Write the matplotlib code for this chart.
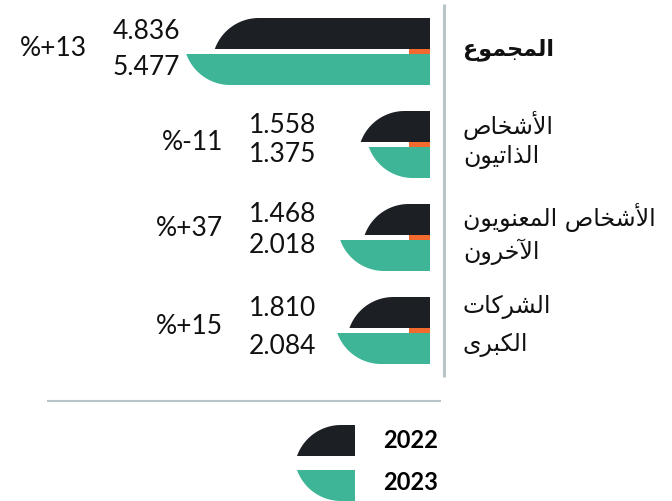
import numpy as np
import matplotlib
matplotlib.use("Agg")
import matplotlib.pyplot as plt
from matplotlib.patches import Polygon

# data
categories = ["المجموع", "الأشخاص\nالذاتيون", "الأشخاص المعنويون\nالآخرون", "الشركات\nالكبرى"]
values_2022 = [4.836, 1.558, 1.468, 1.810]
values_2023 = [5.477, 1.375, 2.018, 2.084]
change_labels = ["%+13", "%-11", "%+37", "%+15"]
years = ["2022", "2023"]

BLACK = "#1c1f24"
GREEN = "#3db596"
ORANGE = "#f26a2e"
GRAY = "#b7c4c8"

# layout, in figure pixels
S = 44.5          # pixels per unit
X0 = 430          # right edge of the bars
H = 31            # bar height
GAP = 5
CURVE = 44
group_tops = [18, 111, 204, 297]
value_label_y = [(31, 67), (125, 155), (215, 245), (308, 347)]
change_y = [48, 143, 228, 327]
cat_y = [(50,), (125, 157), (217, 252), (307, 345)]

# simple arabic shaping (matplotlib has no text shaping)
FORMS = {
    "ا": ("\ufe8d", "\ufe8e", None, None),
    "أ": ("\ufe83", "\ufe84", None, None),
    "آ": ("\ufe81", "\ufe82", None, None),
    "ب": ("\ufe8f", "\ufe90", "\ufe91", "\ufe92"),
    "ت": ("\ufe95", "\ufe96", "\ufe97", "\ufe98"),
    "ج": ("\ufe9d", "\ufe9e", "\ufe9f", "\ufea0"),
    "خ": ("\ufea5", "\ufea6", "\ufea7", "\ufea8"),
    "ذ": ("\ufeab", "\ufeac", None, None),
    "ر": ("\ufead", "\ufeae", None, None),
    "ش": ("\ufeb5", "\ufeb6", "\ufeb7", "\ufeb8"),
    "ص": ("\ufeb9", "\ufeba", "\ufebb", "\ufebc"),
    "ع": ("\ufec9", "\ufeca", "\ufecb", "\ufecc"),
    "ك": ("\ufed9", "\ufeda", "\ufedb", "\ufedc"),
    "ل": ("\ufedd", "\ufede", "\ufedf", "\ufee0"),
    "م": ("\ufee1", "\ufee2", "\ufee3", "\ufee4"),
    "ن": ("\ufee5", "\ufee6", "\ufee7", "\ufee8"),
    "و": ("\ufeed", "\ufeee", None, None),
    "ى": ("\ufeef", "\ufef0", None, None),
    "ي": ("\ufef1", "\ufef2", "\ufef3", "\ufef4"),
}
LAM_ALEF = {"ا": ("\ufefb", "\ufefc", None, None),
            "أ": ("\ufef7", "\ufef8", None, None),
            "آ": ("\ufef5", "\ufef6", None, None)}


def shape_ar(text):
    units = []
    i = 0
    while i < len(text):
        c = text[i]
        if c == "ل" and i + 1 < len(text) and text[i + 1] in LAM_ALEF:
            units.append((c, LAM_ALEF[text[i + 1]]))
            i += 2
            continue
        units.append((c, FORMS.get(c)))
        i += 1
    out = []
    for k, (c, f) in enumerate(units):
        if f is None:
            out.append(c)
            continue
        prev = units[k - 1][1] if k > 0 else None
        nxt = units[k + 1][1] if k + 1 < len(units) else None
        jp = prev is not None and prev[2] is not None
        jn = nxt is not None and f[2] is not None
        if jp and jn:
            out.append(f[3])
        elif jp:
            out.append(f[1])
        elif jn:
            out.append(f[2])
        else:
            out.append(f[0])
    return "".join(out)[::-1]


def px(xp):
    return (X0 - xp) / S


def leaf(ax, right, length, top, color, upper):
    left = right + length
    w = min(CURVE, length * S)
    R = (w ** 2 + H ** 2) / (2 * H)
    phi = np.linspace(0, np.arcsin(w / R), 40)
    ax_x = (left - w / S) + R * np.sin(phi) / S
    if upper:
        ay = top + R * (1 - np.cos(phi))
        pts = [(right, top)] + list(zip(ax_x, ay)) + [(right, top + H)]
    else:
        ay = top + H - R * (1 - np.cos(phi))
        pts = [(right, top + H)] + list(zip(ax_x, ay)) + [(right, top)]
    ax.add_patch(Polygon(pts, closed=True, facecolor=color, edgecolor="none"))


fig = plt.figure(figsize=(6.72, 5.01), dpi=100)
ax = fig.add_axes([0, 0, 1, 1])
ax.set_xlim(px(0), px(672))
ax.set_ylim(501, 0)
ax.axis("off")

num_font = dict(family="Lato", fontsize=19, color="#111111")

for i, cat in enumerate(categories):
    top = group_tops[i]
    v1, v2 = values_2022[i], values_2023[i]
    leaf(ax, 0, v1, top, BLACK, True)
    leaf(ax, 0, v2, top + H + GAP, GREEN, False)
    ax.add_patch(plt.Rectangle((0, top + H), 21 / S, GAP, facecolor=ORANGE, edgecolor="none"))

    left_px = X0 - max(v1, v2) * S
    lab_right = min(316, left_px - 6)
    ax.text(px(lab_right), value_label_y[i][0], f"{v1:.3f}", ha="right", va="center", **num_font)
    ax.text(px(lab_right), value_label_y[i][1], f"{v2:.3f}", ha="right", va="center", **num_font)
    ax.text(px(lab_right - 93), change_y[i], change_labels[i], ha="right", va="center", **num_font)

    for line, y in zip(cat.split("\n"), cat_y[i]):
        ax.text(px(463), y, shape_ar(line), ha="left", va="center",
                family="DejaVu Sans", fontsize=16 if i == 0 else 17,
                fontweight="bold" if i == 0 else "normal", color="#111111")

# separators
ax.plot([px(444), px(444)], [4, 377], color=GRAY, lw=2.2, solid_capstyle="butt")
ax.plot([px(47), px(441)], [401, 401], color=GRAY, lw=1.5, solid_capstyle="butt")

# legend
leg_right = px(355)
leaf(ax, leg_right, 58 / S, 425, BLACK, True)
leaf(ax, leg_right, 58 / S, 470, GREEN, False)
ax.text(px(383), 441, years[0], ha="left", va="center", family="Lato", fontweight="bold", fontsize=17)
ax.text(px(383), 482, years[1], ha="left", va="center", family="Lato", fontweight="bold", fontsize=17)

fig.savefig("out.png", dpi=100)
